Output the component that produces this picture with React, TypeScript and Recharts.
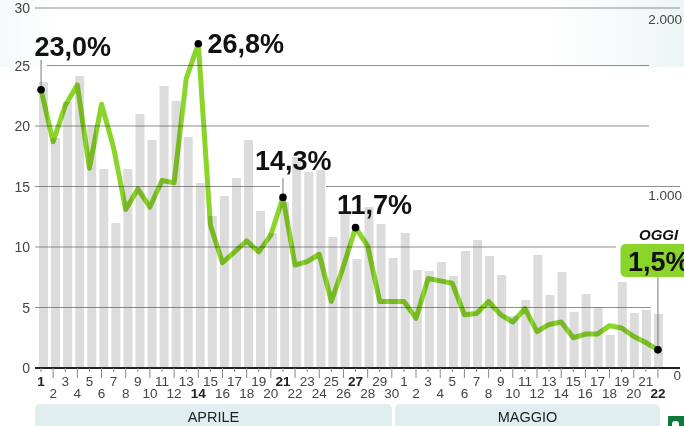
import React from 'react';
import { ComposedChart, Bar, Line, XAxis, YAxis, ReferenceLine } from 'recharts';

const aprilDays = ['1','2','3','4','5','6','7','8','9','10','11','12','13','14','15','16','17','18','19','20','21','22','23','24','25','26','27','28','29','30'];
const mayDays = ['1','2','3','4','5','6','7','8','9','10','11','12','13','14','15','16','17','18','19','20','21','22'];
const boldDays = ['A1','A14','A21','A27','M22'];
const percentValues = [23.0,18.7,21.7,23.4,16.5,21.8,18.2,13.1,14.8,13.3,15.5,15.3,23.9,26.8,11.8,8.7,9.6,10.5,9.6,11.0,14.1,8.5,8.8,9.4,5.5,8.4,11.6,10.1,5.5,5.5,5.5,4.1,7.4,7.2,7.0,4.4,4.5,5.5,4.4,3.8,4.9,3.0,3.6,3.8,2.5,2.8,2.8,3.5,3.3,2.6,2.1,1.5];
const countValues = [1576,1267,1466,1609,1339,1096,799,1096,1400,1256,1554,1471,1273,1019,838,948,1047,1256,865,744,915,1163,1080,1091,722,860,600,887,793,606,744,540,534,584,507,645,705,617,512,287,375,623,402,529,309,408,336,182,474,303,320,298];
const leftTicks = [0,5,10,15,20,25,30];
const rightTicks = [0,1000,2000];
const rightTickLabels = ['0','1.000','2.000'];
const calloutLabels: Record<string,string> = { A1: '23,0%', A14: '26,8%', A21: '14,3%', A27: '11,7%', M22: '1,5%' };
const months = ['APRILE','MAGGIO'];

const ids = [...aprilDays.map((d) => 'A' + d), ...mayDays.map((d) => 'M' + d)];
const labels = [...aprilDays, ...mayDays];
const data = ids.map((id, i) => ({ id, barId: id, pct: percentValues[i], count: countValues[i] }));

const FONT = '"Liberation Sans", Arial, sans-serif';
const TEXT = '#444';
const GREEN = '#8bd52a';

const gridSegments: Record<number,[number,number][]> = {
  30: [[35, 680]], 25: [[47, 649]], 20: [[35, 649]], 15: [[35, 280], [326, 680]], 10: [[35, 616]], 5: [[35, 651]],
};

const gridShape = (v: number) => (p: any) => {
  const y = p.y1 + (v === 30 ? 3 : 0);
  return (
    <g>
      {gridSegments[v].map(([a, b]) => (
        <line key={a} x1={a} x2={b} y1={y} y2={y} stroke="#555" strokeOpacity={0.65} strokeWidth={1} />
      ))}
    </g>
  );
};

const XTick = (p: any) => {
  const i = p.payload.index;
  const even = i % 2 === 1;
  const bold = boldDays.includes(ids[i]);
  return (
    <g>
      <line x1={p.x} x2={p.x} y1={368} y2={even ? 378 : 372} stroke="#888" strokeWidth={1} />
      <text x={p.x} y={even ? 398 : 386} textAnchor="middle" fontFamily={FONT} fontSize={13.5} fontWeight={bold ? 700 : 400} fill={bold ? '#222' : TEXT}>{labels[i]}</text>
    </g>
  );
};

const LeftTick = (p: any) => (
  <text x={30} y={p.y + (p.payload.value === 30 ? 3 : 0) + 5} textAnchor="end" fontFamily={FONT} fontSize={14} fill={TEXT}>{p.payload.value}</text>
);

const RightTick = (p: any) => {
  const v = p.payload.value;
  const idx = rightTicks.indexOf(v);
  const dy = v === 2000 ? 19 : v === 1000 ? 13.5 : 12;
  return (
    <text x={v === 0 ? 681 : 682} y={p.y + dy} textAnchor="end" fontFamily={FONT} fontSize={13.5} fill={TEXT}>{rightTickLabels[idx]}</text>
  );
};

const Big = ({ x, y, children }: any) => (
  <text x={x} y={y} fontFamily={FONT} fontSize={27} fontWeight={700} fill="#111">{children}</text>
);

const CalloutDot = (p: any) => {
  const id = ids[p.index];
  const text = calloutLabels[id];
  if (!text) return <g key={p.index} />;
  const { cx, cy } = p;
  return (
    <g key={p.index}>
      {id === 'A1' && <line x1={cx} x2={cx} y1={60} y2={cy} stroke="#777" />}
      {id === 'A21' && <line x1={cx} x2={cx} y1={178} y2={cy} stroke="#777" />}
      {id === 'M22' && (
        <g>
          <rect x={620.5} y={244} width={80} height={33} rx={5} fill={GREEN} />
          <text x={639} y={240} fontFamily={FONT} fontSize={15} fontWeight={700} fontStyle="italic" fill="#111">OGGI</text>
          <line x1={cx} x2={cx} y1={277} y2={cy} stroke="#777" />
        </g>
      )}
      <circle cx={cx} cy={cy} r={3.8} fill="#000" />
      {id === 'A1' && <Big x={34.5} y={56}>{text}</Big>}
      {id === 'A14' && <Big x={207.5} y={53}>{text}</Big>}
      {id === 'A21' && <Big x={255} y={170}>{text}</Big>}
      {id === 'A27' && <Big x={337} y={214}>{text}</Big>}
      {id === 'M22' && <Big x={628} y={271}>{text}</Big>}
    </g>
  );
};

const pill = (left: number, width: number): React.CSSProperties => ({
  position: 'absolute', left, top: 404, width, height: 22, background: '#e0eef0', borderRadius: '5px 5px 0 0',
  fontFamily: FONT, fontSize: 14.5, color: '#222', textAlign: 'center', lineHeight: '26px',
});

export default function App() {
  return (
    <div style={{ position: 'absolute', left: 0, top: 0, width: 684, height: 426, overflow: 'hidden', background: '#fff' }}>
      <div style={{ position: 'absolute', left: 0, top: 0, width: 684, height: 67, background: 'linear-gradient(90deg,#f5f9fa 0,#fff 60px,#fff 550px,#eef5f6 684px)' }} />
      <div style={pill(35, 357)}>{months[0]}</div>
      <div style={pill(395, 265)}>{months[1]}</div>
      <div style={{ position: 'absolute', left: 668, top: 416, width: 16, height: 10, background: '#0c7a3c', borderRadius: '1px 0 0 0' }} />
      <div style={{ position: 'absolute', left: 672, top: 421, width: 7, height: 5, background: '#fff', borderRadius: '3px 3px 0 0' }} />
      <ComposedChart
        width={684}
        height={426}
        data={data}
        margin={{ top: 5, right: 0, bottom: 0, left: 0 }}
        barCategoryGap={0}
        style={{ position: 'absolute', left: 0, top: 0 }}
      >
        <XAxis xAxisId="line" dataKey="id" height={58} interval={0} axisLine={false} tickLine={false} tick={XTick} />
        <XAxis xAxisId="bar" dataKey="barId" hide padding={{ left: 2, right: 0 }} />
        <YAxis yAxisId="pct" domain={[0, 30]} ticks={leftTicks} width={35} axisLine={false} tickLine={false} tick={LeftTick} interval={0} />
        <YAxis yAxisId="count" orientation="right" domain={[0, 2000]} ticks={rightTicks} width={20} axisLine={false} tickLine={false} tick={RightTick} interval={0} />
        <Bar xAxisId="bar" yAxisId="count" dataKey="count" fill="#dcdcdc" barSize={9} isAnimationActive={false} />
        {leftTicks.filter((v) => v > 0).map((v) => (
          <ReferenceLine key={v} xAxisId="line" yAxisId="pct" y={v} shape={gridShape(v)} />
        ))}
        <ReferenceLine xAxisId="line" yAxisId="pct" y={0} shape={() => <line x1={35} x2={680} y1={368} y2={368} stroke="#222" strokeWidth={2} />} />
        <Line
          xAxisId="line"
          yAxisId="pct"
          dataKey="pct"
          type="linear"
          stroke={GREEN}
          strokeWidth={5}
          strokeLinejoin="round"
          style={{ mixBlendMode: 'multiply' }}
          dot={CalloutDot}
          activeDot={false}
          isAnimationActive={false}
        />
      </ComposedChart>
    </div>
  );
}
